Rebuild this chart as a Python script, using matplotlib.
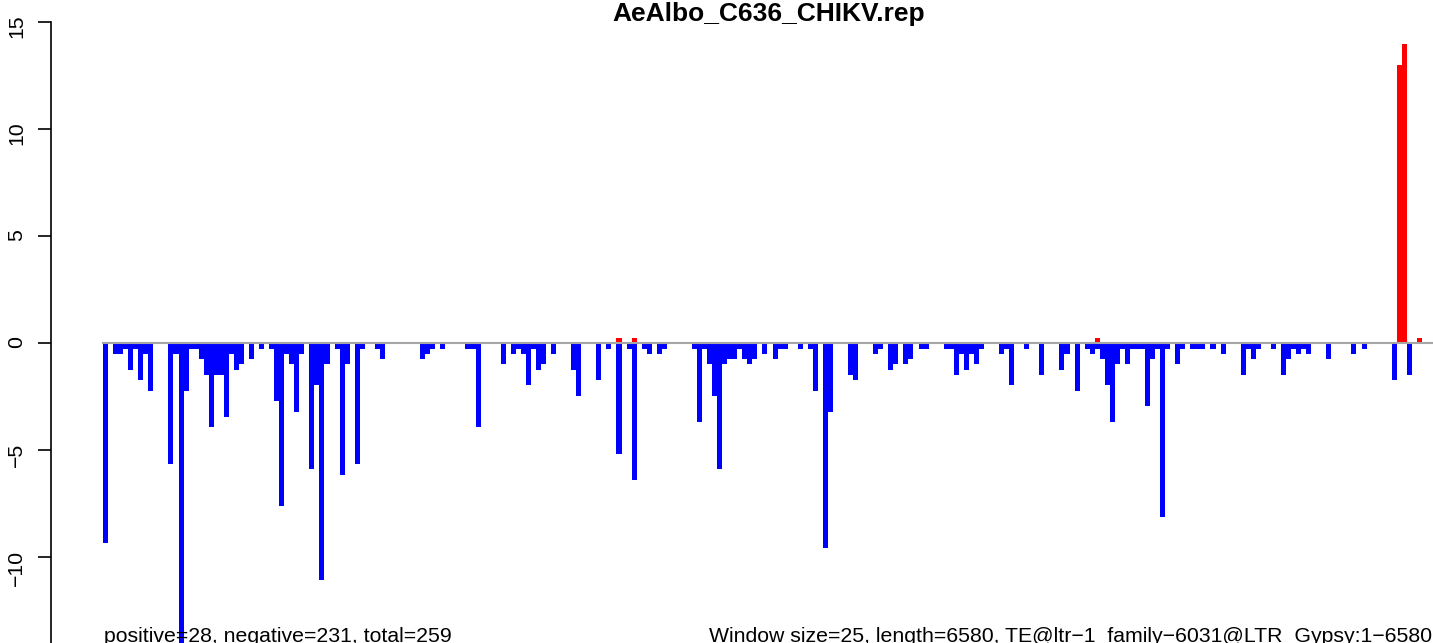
import numpy as np
import matplotlib
matplotlib.use("Agg")
import matplotlib.pyplot as plt

plt.rcParams['font.family'] = ['Liberation Sans', 'DejaVu Sans']

title = "AeAlbo_C636_CHIKV.rep"
window = 25
length = 6580
left_note = "positive=28, negative=231, total=259"
right_note = "Window size=25, length=6580, TE@ltr\u22121_family\u22126031@LTR_Gypsy:1\u22126580"

# negative strand signal per 25bp window (blue)
neg = [
    -9.33, 0, -0.49, -0.49, -0.25, -1.23, -0.25, -1.72, -0.49, -2.21,
    0, 0, 0, -5.65, -0.49, -14.5, -2.21, -0.25, -0.25, -0.74,
    -1.47, -3.93, -1.47, -1.47, -3.44, -0.49, -1.23, -0.98, 0, -0.74,
    0, -0.25, 0, -0.25, -2.70, -7.61, -0.49, -0.98, -3.19, -0.49,
    0, -5.89, -1.96, -11.05, -0.98, 0, -0.25, -6.14, -0.98, 0,
    -5.65, -0.25, 0, 0, -0.25, -0.74, 0, 0, 0, 0,
    0, 0, 0, -0.74, -0.49, -0.25, 0, -0.25, 0, 0,
    0, 0, -0.25, -0.25, -3.93, 0, 0, 0, 0, -0.98,
    0, -0.49, -0.25, -0.49, -1.96, -0.25, -1.23, -0.98, 0, -0.49,
    0, 0, 0, -1.23, -2.46, 0, 0, 0, -1.72, 0,
    -0.25, 0, -5.16, 0, -0.25, -6.38, 0, -0.25, -0.49, 0,
    -0.49, -0.25, 0, 0, 0, 0, 0, -0.25, -3.68, -0.25,
    -0.98, -2.46, -5.89, -0.98, -0.74, -0.74, -0.25, -0.74, -0.98, -0.74,
    0, -0.49, 0, -0.74, -0.25, -0.25, 0, 0, -0.25, 0,
    -0.25, -2.21, 0, -9.57, -3.19, 0, 0, 0, -1.47, -1.72,
    0, 0, 0, -0.49, -0.25, 0, -1.23, -0.98, 0, -0.98,
    -0.74, 0, -0.25, -0.25, 0, 0, 0, -0.25, -0.25, -1.47,
    -0.49, -1.23, -0.49, -0.98, -0.25, 0, 0, 0, -0.49, -0.25,
    -1.96, 0, 0, -0.25, 0, 0, -1.47, 0, 0, 0,
    -1.23, -0.49, 0, -2.21, 0, -0.25, -0.49, -0.25, -0.74, -1.96,
    -3.68, -0.98, -0.25, -0.98, -0.25, -0.25, -0.25, -2.95, -0.74, -0.25,
    -8.10, -0.25, 0, -0.98, -0.25, 0, -0.25, -0.25, -0.25, 0,
    -0.25, 0, -0.49, 0, 0, 0, -1.47, -0.25, -0.74, -0.25,
    0, 0, -0.25, 0, -1.47, -0.74, -0.25, -0.49, -0.25, -0.49,
    0, 0, 0, -0.74, 0, 0, 0, 0, -0.49, 0,
    -0.25, 0, 0, 0, 0, 0, -1.72, 0, 0, -1.47,
    0, 0, 0,
]

# positive strand signal (red): window index and value
pos_bins = [102, 105, 197, 257, 258, 261]
pos_vals = [0.25, 0.25, 0.25, 13.01, 13.99, 0.25]

starts = np.arange(len(neg)) * window
pos = np.zeros(len(neg))
pos[pos_bins] = pos_vals

W, H = 1433, 643
fig = plt.figure(figsize=(W / 100, H / 100), dpi=100)
ax = fig.add_axes([0, 0, 1, 1])

ax.bar(starts, neg, width=window, align='edge', color='#0000ff', linewidth=0, antialiased=False)
ax.bar(starts, pos, width=window, align='edge', color='#ff0000', linewidth=0, antialiased=False)
ax.plot([0, 8000], [0, 0], color='#a6a6a6', lw=1.5, zorder=3)

for s in ['top', 'right', 'bottom']:
    ax.spines[s].set_visible(False)
ax.spines['left'].set_position(('axes', 50.5 / W))
ax.spines['left'].set_bounds(-15, 15)
ax.spines['left'].set_linewidth(1.2)
ax.set_xticks([])
ax.set_yticks([-15, -10, -5, 0, 5, 10, 15])
ax.tick_params(axis='y', length=9.4, width=1.2, pad=8, labelsize=15.3, labelrotation=90)

# limits after the ticks, otherwise set_yticks widens them
px_per_bp = 5.034 / window
ax.set_xlim(-103 / px_per_bp, (W - 103) / px_per_bp)
ax.set_ylim(-14.0, 16.03)

fig.text(768.5 / W, 1 - 21 / H, title, ha='center', va='baseline', fontsize=19, fontweight='bold')
fig.text(104 / W, 1.5 / H, left_note, ha='left', va='baseline', fontsize=15.3)
fig.text(1432 / W, 1.5 / H, right_note, ha='right', va='baseline', fontsize=15.3)

fig.savefig('out.png', dpi=100)
